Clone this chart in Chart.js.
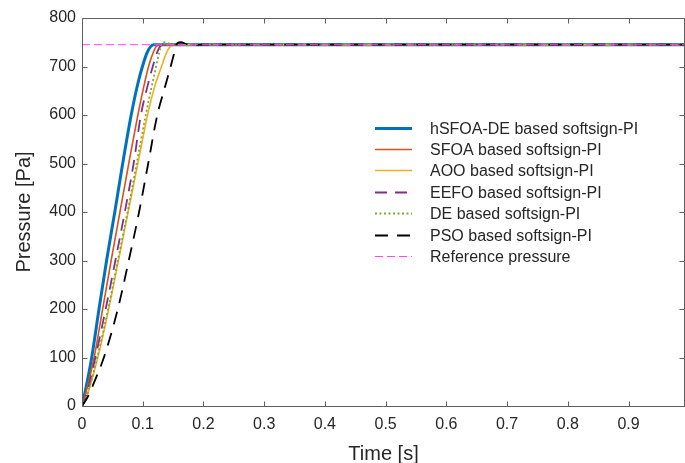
<!DOCTYPE html>
<html>
<head>
<meta charset="utf-8">
<script src="https://cdn.jsdelivr.net/npm/chart.js@4"></script>
<style>
  html, body { margin: 0; padding: 0; background: #fff; }
  #wrap { width: 685px; height: 463px; }
</style>
</head>
<body>
<div id="wrap"><canvas id="pressureChart" width="685" height="463"></canvas></div>
<script>
// pressure step responses (time in s, pressure in Pa)
const hsfoaT = [0, 0.005, 0.016, 0.028, 0.0405, 0.054, 0.067, 0.081, 0.092, 0.100, 0.107, 0.113, 0.118, 0.13, 1.0];
const hsfoaP = [0, 28, 100, 200, 300, 400, 500, 600, 665, 702, 728, 741, 745, 745, 745];

const sfoaT = [0, 0.006, 0.020, 0.034, 0.048, 0.0625, 0.077, 0.092, 0.102, 0.110, 0.117, 0.122, 0.126, 0.14, 1.0];
const sfoaP = [0, 25, 100, 200, 300, 400, 500, 600, 660, 702, 728, 741, 745, 745, 745];

const aooT = [0, 0.008, 0.026, 0.044, 0.060, 0.076, 0.092, 0.108, 0.120, 0.131, 0.138, 0.144, 0.150, 0.165, 1.0];
const aooP = [0, 20, 100, 200, 300, 400, 500, 600, 660, 700, 725, 739, 744, 745, 745];

const eefoT = [0, 0.007, 0.022, 0.039, 0.055, 0.0705, 0.085, 0.097, 0.108, 0.117, 0.124, 0.129, 0.134, 0.15, 1.0];
const eefoP = [0, 22, 100, 200, 300, 400, 500, 600, 660, 702, 730, 742, 746, 745, 745];

const deT = [0, 0.008, 0.025, 0.043, 0.059, 0.075, 0.090, 0.105, 0.115, 0.122, 0.127, 0.131, 0.136, 0.145, 0.16, 1.0];
const deP = [0, 22, 100, 200, 300, 400, 500, 600, 660, 700, 728, 746, 750, 747, 745, 745];

const psoT = [0, 0.010, 0.022, 0.036, 0.059, 0.077, 0.094, 0.109, 0.124, 0.136, 0.146, 0.152, 0.157, 0.163, 0.172, 0.185, 0.2, 1.0];
const psoP = [0, 20, 55, 100, 200, 300, 400, 500, 600, 655, 700, 728, 748, 750, 746, 744, 745, 745];

const refT = [0, 1.0];
const refP = [745, 745];

const seriesNames = [
    'hSFOA-DE based softsign-PI',
    'SFOA based softsign-PI',
    'AOO based softsign-PI',
    'EEFO based softsign-PI',
    'DE based softsign-PI',
    'PSO based softsign-PI',
    'Reference pressure'
];
const xTicks = [0, 0.1, 0.2, 0.3, 0.4, 0.5, 0.6, 0.7, 0.8, 0.9];
const yTicks = [0, 100, 200, 300, 400, 500, 600, 700, 800];

const FONT = '"Liberation Sans", Arial, Helvetica, sans-serif';
const AXIS_COLOR = '#5e5e5e';
const TEXT_COLOR = '#262626';

function toPoints(ts, ps) {
    return ts.map((t, i) => ({x: t, y: ps[i]}));
}

const styles = [
    {color: '#0072BD', width: 3, dash: []},
    {color: '#D95319', width: 1.6, dash: []},
    {color: '#EDB120', width: 1.6, dash: []},
    {color: '#7E2F8E', width: 1.8, dash: [12, 8]},
    {color: '#77AC30', width: 1.8, dash: [2, 2.5]},
    {color: '#000000', width: 1.8, dash: [13, 9]},
    {color: '#FF44FF', width: 1, dash: [8, 4]}
];
const series = [
    toPoints(hsfoaT, hsfoaP),
    toPoints(sfoaT, sfoaP),
    toPoints(aooT, aooP),
    toPoints(eefoT, eefoP),
    toPoints(deT, deP),
    toPoints(psoT, psoP),
    toPoints(refT, refP)
];

const datasets = series.map((pts, i) => ({
    label: seriesNames[i],
    data: pts,
    borderColor: styles[i].color,
    borderWidth: styles[i].width,
    borderDash: styles[i].dash,
    pointRadius: 0,
    fill: false,
    cubicInterpolationMode: 'monotone',
    order: series.length - i // later series drawn on top, like the original
}));

// frame with inward ticks on all four sides
const framePlugin = {
    id: 'frame',
    afterDatasetsDraw(chart) {
        const {ctx, chartArea: a, scales} = chart;
        const L = Math.round(a.left) + 0.5, R = Math.round(a.right) - 0.5;
        const T = Math.round(a.top) + 0.5, B = Math.round(a.bottom) + 0.5;
        ctx.save();
        ctx.strokeStyle = AXIS_COLOR;
        ctx.lineWidth = 1;
        ctx.beginPath();
        ctx.rect(L, T, R - L, B - T);
        const len = 5;
        xTicks.forEach(v => {
            const px = Math.round(scales.x.getPixelForValue(v)) + 0.5;
            ctx.moveTo(px, B); ctx.lineTo(px, B - len);
            ctx.moveTo(px, T); ctx.lineTo(px, T + len);
        });
        yTicks.forEach(v => {
            const py = Math.round(scales.y.getPixelForValue(v)) + 0.5;
            ctx.moveTo(L, py); ctx.lineTo(L + len, py);
            ctx.moveTo(R, py); ctx.lineTo(R - len, py);
        });
        ctx.stroke();
        ctx.restore();
    }
};

// legend inside the axes, no box
const legendPlugin = {
    id: 'insideLegend',
    afterDraw(chart) {
        const ctx = chart.ctx;
        const x0 = 375, x1 = 412, tx = 430, y0 = 127.5, step = 21.45;
        ctx.save();
        ctx.font = '16px ' + FONT;
        ctx.textBaseline = 'middle';
        ctx.textAlign = 'left';
        chart.data.datasets.forEach((ds, i) => {
            const y = Math.round(y0 + i * step) + 0.5;
            ctx.strokeStyle = ds.borderColor;
            ctx.lineWidth = ds.borderWidth;
            ctx.setLineDash(ds.borderDash);
            ctx.beginPath();
            ctx.moveTo(x0, y);
            ctx.lineTo(x1, y);
            ctx.stroke();
            ctx.setLineDash([]);
            ctx.fillStyle = TEXT_COLOR;
            ctx.fillText(ds.label, tx, y + 1);
        });
        ctx.restore();
    }
};

new Chart(document.getElementById('pressureChart'), {
    type: 'line',
    data: {datasets: datasets},
    options: {
        responsive: false,
        animation: false,
        layout: {padding: {top: 18, right: 0, left: 0, bottom: 0}},
        plugins: {
            legend: {display: false},
            tooltip: {enabled: false}
        },
        scales: {
            x: {
                type: 'linear',
                min: 0,
                max: 0.993,
                afterBuildTicks: scale => { scale.ticks = xTicks.map(v => ({value: v})); },
                afterFit: scale => { scale.height = 57; },
                grid: {display: false, drawTicks: false},
                border: {display: false},
                ticks: {
                    color: TEXT_COLOR,
                    font: {family: FONT, size: 16},
                    padding: 9,
                    maxRotation: 0,
                    callback: v => String(v)
                },
                title: {
                    display: true,
                    text: 'Time [s]',
                    color: TEXT_COLOR,
                    font: {family: FONT, size: 20},
                    padding: {top: 0, bottom: -3}
                }
            },
            y: {
                type: 'linear',
                min: 0,
                max: 800,
                afterBuildTicks: scale => { scale.ticks = yTicks.map(v => ({value: v})); },
                afterFit: scale => { scale.width = 82; },
                grid: {display: false, drawTicks: false},
                border: {display: false},
                ticks: {
                    color: TEXT_COLOR,
                    font: {family: FONT, size: 16},
                    padding: 6
                },
                title: {
                    display: true,
                    text: 'Pressure [Pa]',
                    color: TEXT_COLOR,
                    font: {family: FONT, size: 20},
                    padding: {top: 12, bottom: 0}
                }
            }
        }
    },
    plugins: [framePlugin, legendPlugin]
});
</script>
</body>
</html>
